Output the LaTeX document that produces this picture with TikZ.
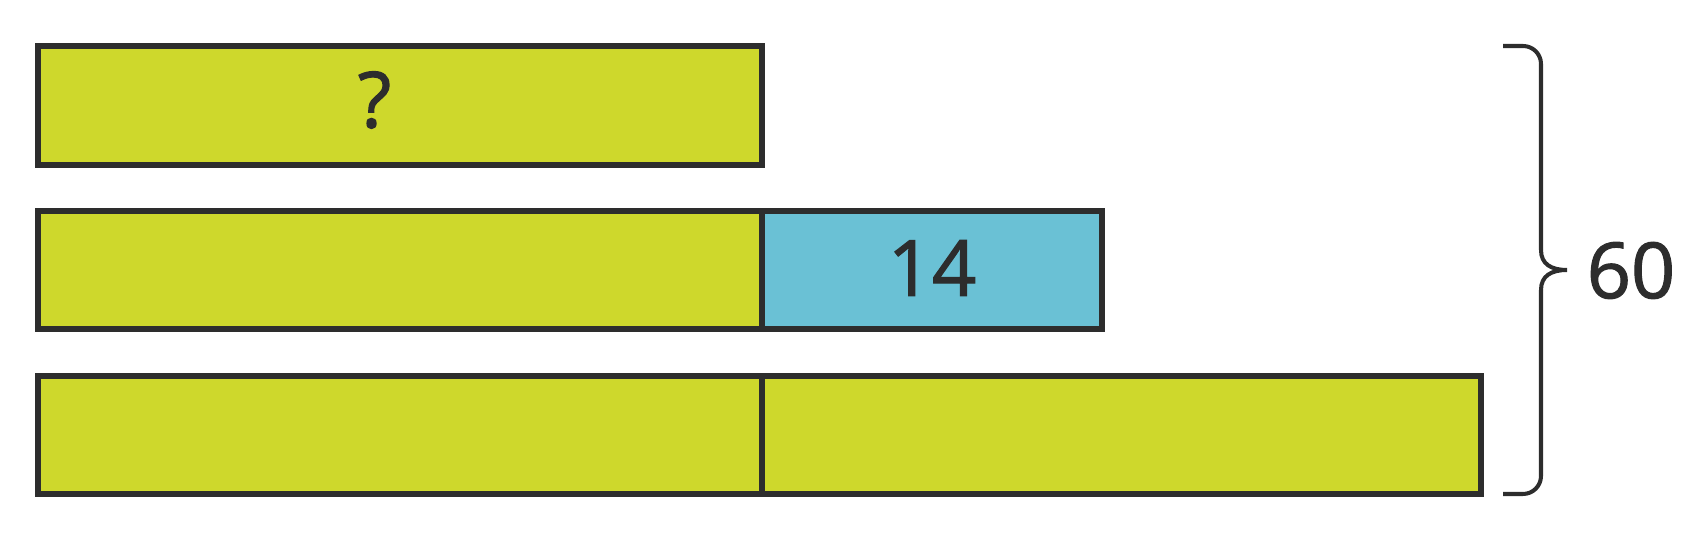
\documentclass[tikz,border=0pt]{standalone}
\usepackage{fontspec}
\setmainfont{Open Sans}
\newfontfamily\barfont{Open Sans}[BoldFont={Open Sans}, BoldFeatures={FakeBold=1.5}]
\usepackage{tikz}
\usetikzlibrary{calc}

\definecolor{barGreen}{RGB}{206,216,44}
\definecolor{barBlue}{RGB}{106,193,213}
\definecolor{barLine}{RGB}{45,45,45}

\tikzset{
  bar/.style={line width=3pt, draw=barLine},
  barlabel/.style={text=barLine, font=\fontsize{44}{52}\barfont\bfseries, inner sep=0pt}
}

\begin{document}
\begin{tikzpicture}
\useasboundingbox (0,0) rectangle (33.88,11.04);

\draw[bar, fill=barGreen] (0.76,10.12) rectangle (15.24,7.74);
\draw[bar, fill=barGreen] (0.76,6.82) rectangle (15.24,4.46);
\draw[bar, fill=barBlue] (15.24,6.82) rectangle (22.04,4.46);
\draw[bar, fill=barGreen] (0.76,3.52) rectangle (15.24,1.16);
\draw[bar, fill=barGreen] (15.24,3.52) rectangle (29.62,1.16);

\node[barlabel] (unknown) at (7.49,9.04) {?};
\node[barlabel] (diff) at (18.64,5.68) {14};

% brace
\draw[line width=2.3pt, barLine, rounded corners=0.36cm]
  (30.06,10.12) -- (30.82,10.12) -- (30.82,6.04);
\draw[line width=2.3pt, barLine]
  (30.82,6.04) .. controls (30.82,5.76) and (31.02,5.64) .. (31.34,5.64)
  .. controls (31.02,5.64) and (30.82,5.52) .. (30.82,5.24);
\draw[line width=2.3pt, barLine, rounded corners=0.36cm]
  (30.82,5.24) -- (30.82,1.16) -- (30.06,1.16);
\node[barlabel] (total) at (32.62,5.63) {60};
\end{tikzpicture}
\end{document}
